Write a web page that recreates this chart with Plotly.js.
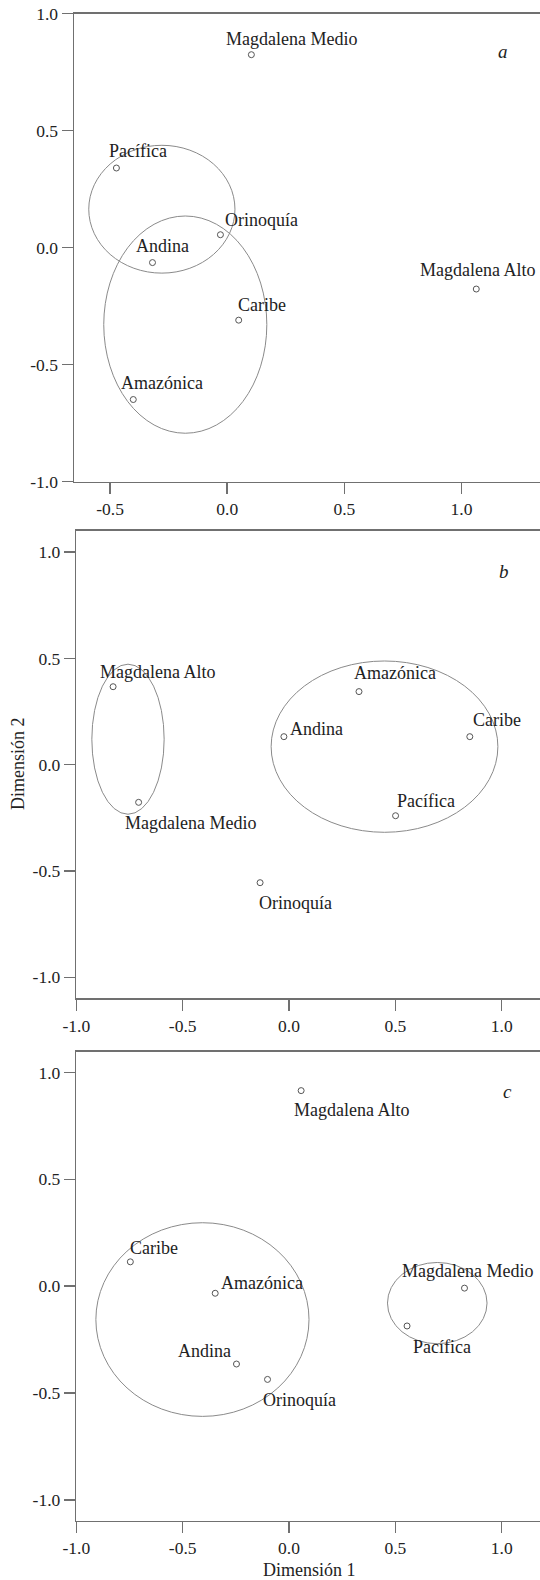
<!DOCTYPE html>
<html>
<head>
<meta charset="utf-8">
<script src="https://cdn.plot.ly/plotly-3.0.1.min.js"></script>
<style>html,body{margin:0;padding:0;background:#fff;}#chart{width:540px;height:1580px;}</style>
</head>
<body>
<div id="chart"></div>
<script>
// ---- data ----
const regions = ['Amazónica','Andina','Caribe','Magdalena Alto','Magdalena Medio','Orinoquía','Pacífica'];
const xA = [-0.401, -0.319, 0.049, 1.063, 0.103, -0.029, -0.473];
const yA = [-0.649, -0.064, -0.310, -0.177, 0.824, 0.055, 0.340];
const xB = [0.329, -0.024, 0.850, -0.827, -0.707, -0.136, 0.501];
const yB = [0.344, 0.132, 0.132, 0.367, -0.177, -0.555, -0.240];
const xC = [-0.347, -0.247, -0.746, 0.057, 0.825, -0.101, 0.555];
const yC = [-0.033, -0.364, 0.114, 0.915, -0.009, -0.436, -0.186];
// cluster ellipses: [centerX, centerY, radiusX, radiusY]
const ellA = [[-0.279, 0.164, 0.312, 0.273], [-0.179, -0.329, 0.348, 0.464]];
const ellB = [[-0.757, 0.120, 0.170, 0.353], [0.449, 0.085, 0.533, 0.403]];
const ellC = [[-0.407, -0.156, 0.501, 0.453], [0.697, -0.079, 0.234, 0.190]];
const panelLetters = ['a', 'b', 'c'];
const yTickVals = [-1, -0.5, 0, 0.5, 1];
const yTickText = ['-1.0', '-0.5', '0.0', '0.5', '1.0'];
const xTickValsA = [-0.5, 0, 0.5, 1];
const xTickTextA = ['-0.5', '0.0', '0.5', '1.0'];
const xTickValsBC = [-1, -0.5, 0, 0.5, 1];
const xTickTextBC = ['-1.0', '-0.5', '0.0', '0.5', '1.0'];
const xTitle = 'Dimensión 1';
const yTitle = 'Dimensión 2';

// ---- label offsets (pixels: right, up) ----
const offA = [[29.2,16.4],[10.1,16.7],[23.0,15.3],[1.2,18.6],[39.7,15.7],[41.0,15],[22.0,16.6]];
const offB = [[35.6,18.4],[32.8,7.4],[26.7,16.7],[44.2,15],[51.7,-20.4],[35.9,-20],[30.2,15]];
const offC = [[46.5,10.7],[-32.4,12.7],[23.2,14],[50.6,-19.3],[3.2,17.3],[31.8,-21],[35.3,-21]];

const W = 540, H = 1580;
const FONT = '"Liberation Serif", "Times New Roman", serif';
const TXT = '#222';
const AX = '#707070';

function marker(xs, ys, ax) {
  return {
    type: 'scatter', mode: 'markers', x: xs, y: ys,
    xaxis: 'x' + ax, yaxis: 'y' + ax, hoverinfo: 'skip',
    marker: {symbol: 'circle-open', size: 6, color: '#555', line: {width: 1, color: '#555'}},
    showlegend: false, cliponaxis: false
  };
}
const data = [marker(xA, yA, ''), marker(xB, yB, '2'), marker(xC, yC, '3')];

const shapes = [];
function addEll(list, ax) {
  list.forEach(e => shapes.push({
    type: 'circle', xref: 'x' + ax, yref: 'y' + ax,
    x0: e[0] - e[2], x1: e[0] + e[2], y0: e[1] - e[3], y1: e[1] + e[3],
    line: {color: '#8a8a8a', width: 1}, layer: 'above'
  }));
}
addEll(ellA, ''); addEll(ellB, '2'); addEll(ellC, '3');

const annotations = [];
function addLabels(xs, ys, offs, ax) {
  regions.forEach((r, i) => annotations.push({
    x: xs[i], y: ys[i], xref: 'x' + ax, yref: 'y' + ax, text: r, showarrow: false,
    xshift: offs[i][0], yshift: offs[i][1], xanchor: 'center', yanchor: 'middle',
    font: {family: FONT, size: 18, color: TXT}
  }));
}
addLabels(xA, yA, offA, ''); addLabels(xB, yB, offB, '2'); addLabels(xC, yC, offC, '3');

const letterPos = [[502.5, 51.7], [503.9, 571.7], [507, 1091.7]];
panelLetters.forEach((l, i) => annotations.push({
  xref: 'paper', yref: 'paper', x: letterPos[i][0] / W, y: 1 - letterPos[i][1] / H,
  text: '<i>' + l + '</i>', showarrow: false, xanchor: 'center', yanchor: 'middle',
  font: {family: FONT, size: 19, color: TXT}
}));
annotations.push({xref: 'paper', yref: 'paper', x: 309.4 / W, y: 1 - 1570 / H, text: xTitle,
  showarrow: false, xanchor: 'center', yanchor: 'middle', font: {family: FONT, size: 18, color: TXT}});
annotations.push({xref: 'paper', yref: 'paper', x: 18.1 / W, y: 1 - 764 / H, text: yTitle, textangle: -90,
  showarrow: false, xanchor: 'center', yanchor: 'middle', font: {family: FONT, size: 18, color: TXT}});

function xaxis(left, range, vals, txt, anchor) {
  return {domain: [left / W, 1], range: range, anchor: anchor, showgrid: false, zeroline: false,
    showline: true, mirror: true, linecolor: AX, linewidth: 1.5,
    ticks: 'outside', ticklen: 11, tickwidth: 1.5, tickcolor: AX,
    tickvals: vals, ticktext: txt, tickfont: {family: FONT, size: 17.5, color: TXT}, fixedrange: true};
}
function yaxis(top, bottom, range, anchor) {
  return {domain: [1 - bottom / H, 1 - top / H], range: range, anchor: anchor, showgrid: false, zeroline: false,
    showline: true, mirror: false, linecolor: AX, linewidth: 1.5,
    ticks: 'outside', ticklen: 11, tickwidth: 1.5, tickcolor: AX,
    tickvals: yTickVals, ticktext: yTickText, tickfont: {family: FONT, size: 17.5, color: TXT}, fixedrange: true};
}

const layout = {
  width: W, height: H, margin: {l: 0, r: 0, t: 0, b: 0}, paper_bgcolor: '#fff', plot_bgcolor: '#fff',
  showlegend: false, font: {family: FONT},
  xaxis: xaxis(74, [-0.654, 1.335], xTickValsA, xTickTextA, 'y'),
  yaxis: yaxis(13.5, 481.7, [-1, 1], 'x'),
  xaxis2: xaxis(76.3, [-1.0, 1.180], xTickValsBC, xTickTextBC, 'y2'),
  yaxis2: yaxis(530.7, 998.3, [-1.099, 1.101], 'x2'),
  xaxis3: xaxis(76.3, [-1.0, 1.180], xTickValsBC, xTickTextBC, 'y3'),
  yaxis3: yaxis(1051.7, 1520.5, [-1.096, 1.097], 'x3'),
  shapes: shapes, annotations: annotations
};
Plotly.newPlot('chart', data, layout, {displayModeBar: false, staticPlot: true});
</script>
</body>
</html>
